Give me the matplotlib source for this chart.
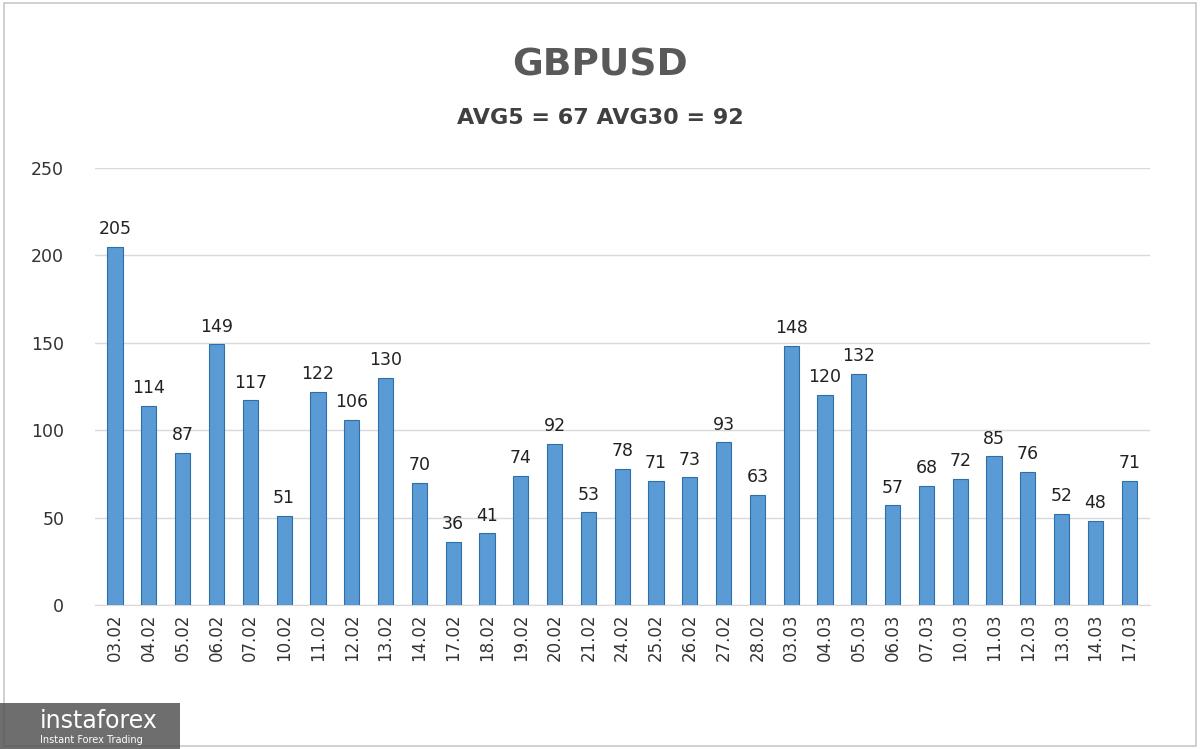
import matplotlib
matplotlib.use("Agg")
import matplotlib.pyplot as plt
from matplotlib.patches import Rectangle

dates = ["03.02", "04.02", "05.02", "06.02", "07.02", "10.02", "11.02", "12.02", "13.02", "14.02",
         "17.02", "18.02", "19.02", "20.02", "21.02", "24.02", "25.02", "26.02", "27.02", "28.02",
         "03.03", "04.03", "05.03", "06.03", "07.03", "10.03", "11.03", "12.03", "13.03", "14.03", "17.03"]
values = [205, 114, 87, 149, 117, 51, 122, 106, 130, 70,
          36, 41, 74, 92, 53, 78, 71, 73, 93, 63,
          148, 120, 132, 57, 68, 72, 85, 76, 52, 48, 71]

fig = plt.figure(figsize=(12, 7.49), dpi=100)
fig.patch.set_facecolor("white")
fig.patches.append(Rectangle((0.003, 0.004), 0.994, 0.992, transform=fig.transFigure,
                             fill=False, edgecolor="#c8c8c8", lw=1.2))

ax = fig.add_axes([0.079, 0.192, 0.879, 0.584])
x = range(len(values))
ax.bar(x, values, width=0.45, color="#5b9bd5", edgecolor="#2e6fa8", linewidth=0.8, zorder=3)
for i, v in zip(x, values):
    ax.text(i, v + 5, str(v), ha="center", va="bottom", fontsize=12.5, color="#222222")

ax.set_ylim(0, 250)
ax.set_xlim(-0.6, len(values) - 0.4)
ax.set_yticks(range(0, 251, 50))
ax.grid(axis="y", color="#d9d9d9", lw=1, zorder=0)
for s in ["top", "right", "left"]:
    ax.spines[s].set_visible(False)
ax.spines["bottom"].set_color("#d9d9d9")
ax.set_xticks(list(x))
ax.set_xticklabels(dates, rotation=90, fontsize=12, color="#333333")
ax.tick_params(axis="y", labelsize=12.5, colors="#333333", length=0, pad=22)
ax.tick_params(axis="x", length=0, pad=6)

fig.text(0.5, 0.913, "GBPUSD", ha="center", va="center", fontsize=27, fontweight="bold", color="#595959")
fig.text(0.5, 0.843, "AVG5 = 67 AVG30 = 92", ha="center", va="center", fontsize=16, fontweight="bold", color="#404040")

fig.patches.append(Rectangle((0.0, 0.0), 0.15, 0.062, transform=fig.transFigure,
                             facecolor="#555555", alpha=0.85, edgecolor="none"))
fig.text(0.033, 0.038, "instaforex", fontsize=17, color="white", va="center")
fig.text(0.033, 0.012, "Instant Forex Trading", fontsize=7, color="white", va="center")

fig.savefig("out.png", dpi=100)
